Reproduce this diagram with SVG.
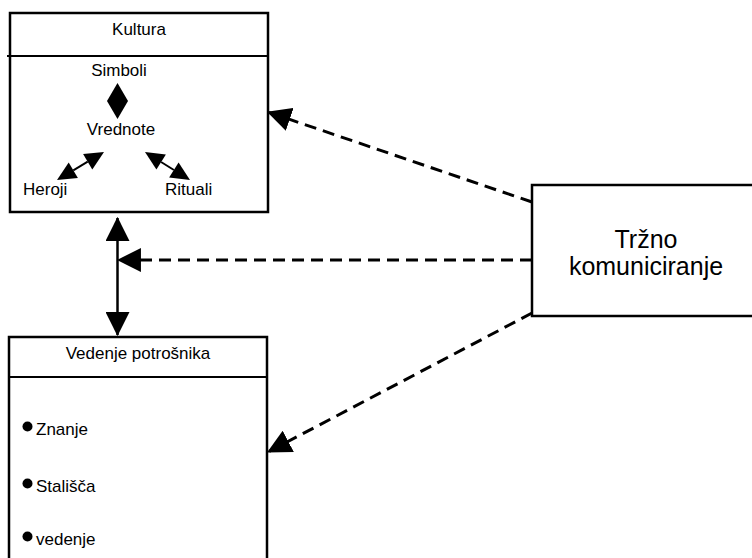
<svg xmlns="http://www.w3.org/2000/svg" width="752" height="558" viewBox="0 0 752 558">
  <style>
    .box { fill: #fff; stroke: #000; stroke-width: 2.5; }
    .rule { stroke: #000; stroke-width: 2; }
    .t { font-family: "Liberation Sans", Arial, sans-serif; font-size: 17px; fill: #000; }
    .big { font-size: 25px; }
    .solid { stroke: #000; stroke-width: 2.5; fill: none; }
    .dash { stroke: #000; stroke-width: 3; fill: none; stroke-dasharray: 12 7; }
    .thin { stroke: #000; stroke-width: 2; fill: none; }
    .fill { fill: #000; }
  </style>
  <defs>
    <marker id="head" markerUnits="userSpaceOnUse" markerWidth="24" markerHeight="24" viewBox="0 0 22 22" refX="21" refY="11" orient="auto-start-reverse">
      <path d="M0,0 L22,11 L0,22 z" fill="#000"/>
    </marker>
  </defs>

  <g id="kultura">
    <rect class="box" x="10" y="13" width="258" height="199"/>
    <line class="rule" x1="7" y1="56" x2="268" y2="56"/>
    <text class="t" x="139" y="35" text-anchor="middle">Kultura</text>
    <text class="t" x="119" y="76" text-anchor="middle">Simboli</text>
    <text class="t" x="121" y="135" text-anchor="middle">Vrednote</text>
    <text class="t" x="23" y="195">Heroji</text>
    <text class="t" x="165" y="195">Rituali</text>
    <!-- Simboli <-> Vrednote -->
    <polygon class="fill" points="117.5,83 128,101 117.5,119 107,101"/>
    <!-- Heroji <-> Vrednote -->
    <line class="thin" x1="73.3" y1="170.3" x2="87.7" y2="161.7"/>
    <polygon class="fill" points="57,180 77.9,178 68.7,162.6"/>
    <polygon class="fill" points="104,152 92.3,169.4 83.1,154"/>
    <!-- Vrednote <-> Rituali -->
    <line class="thin" x1="161.1" y1="162" x2="173.9" y2="170"/>
    <polygon class="fill" points="145,152 156.4,169.6 165.9,154.4"/>
    <polygon class="fill" points="190,180 169.1,177.6 178.6,162.4"/>
  </g>

  <g id="vedenje">
    <rect class="box" x="9" y="337" width="258" height="240"/>
    <line class="rule" x1="9" y1="377" x2="267" y2="377"/>
    <text class="t" x="138" y="359" text-anchor="middle">Vedenje potrošnika</text>
    <circle cx="27.5" cy="426.5" r="5" class="fill"/>
    <text class="t" x="36" y="435">Znanje</text>
    <circle cx="27.5" cy="483.5" r="5" class="fill"/>
    <text class="t" x="36" y="492">Stališča</text>
    <circle cx="27.5" cy="536.5" r="5" class="fill"/>
    <text class="t" x="36" y="545">vedenje</text>
  </g>

  <g id="trzno">
    <rect class="box" x="532" y="185" width="240" height="131"/>
    <text class="t big" x="646" y="248" text-anchor="middle">Tržno</text>
    <text class="t big" x="646" y="275" text-anchor="middle">komuniciranje</text>
  </g>

  <g id="connectors">
    <line class="solid" x1="117.5" y1="218" x2="117.5" y2="335" marker-start="url(#head)" marker-end="url(#head)"/>
    <line class="dash" x1="532" y1="202" x2="268" y2="112" marker-end="url(#head)"/>
    <line class="dash" x1="532" y1="260" x2="118" y2="260" marker-end="url(#head)"/>
    <line class="dash" x1="532" y1="313" x2="268" y2="452" marker-end="url(#head)"/>
  </g>
</svg>
